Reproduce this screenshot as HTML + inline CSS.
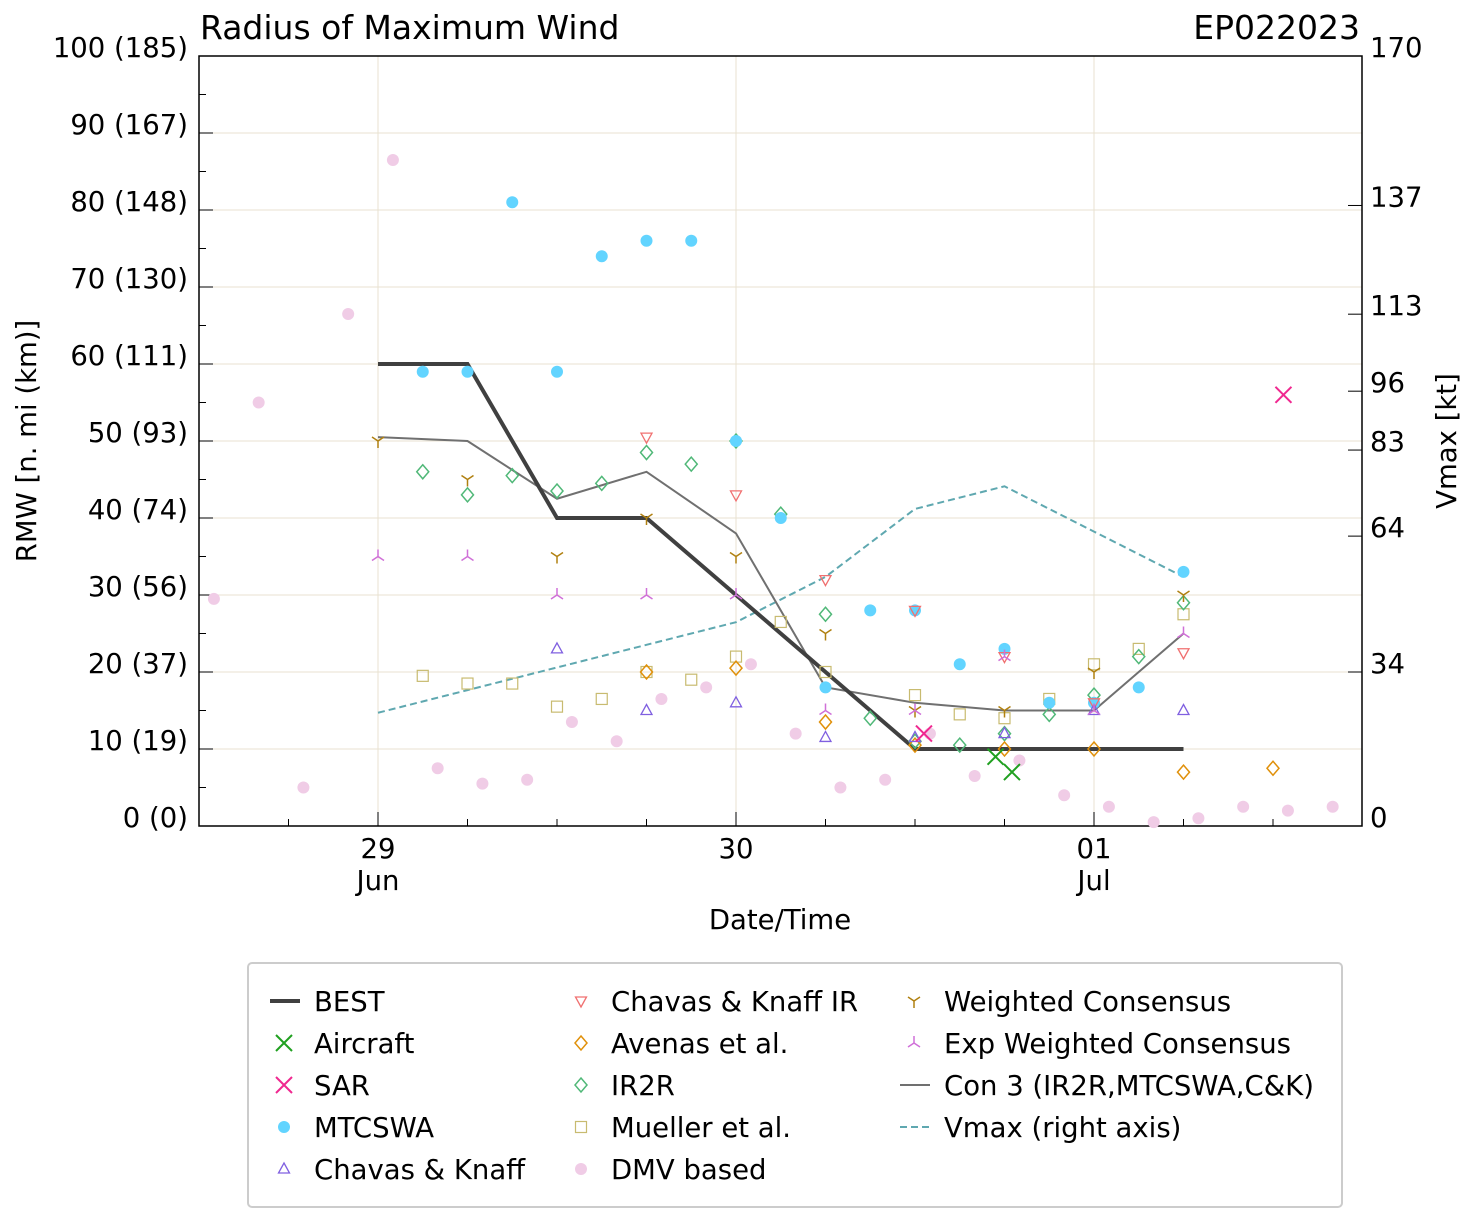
<!DOCTYPE html>
<html><head><meta charset="utf-8"><style>
body{margin:0;background:#fff;font-family:"DejaVu Sans","Liberation Sans",sans-serif;}
svg text{font-family:"DejaVu Sans","Liberation Sans",sans-serif;}
</style></head><body>
<svg id="chart" width="1477" height="1222" xmlns="http://www.w3.org/2000/svg"></svg>
<script>
// ---- data (hours from 29 Jun 00Z, RMW n mi) ----
const bestH=[0,6,12,18,24,30,36,42,48,54];
const bestV=[60,60,40,40,30,20,10,10,10,10];
const con3V=[50.5,50,42.5,46,38,18,16,15,15,25];
const vmaxV=[25,30,35,40,45,55,70,75,65,55];
const mtcH=[3,6,9,12,15,18,21,24,27,30,33,36,39,42,45,48,51,54];
const mtcV=[59,59,81,59,74,76,76,50,40,18,28,28,21,23,16,16,18,33];
const ir2rH=[3,6,9,12,15,18,21,24,27,30,33,36,39,42,45,48,51,54];
const ir2rV=[46,43,45.5,43.5,44.5,48.5,47,50,40.5,27.5,14,11,10.5,12,14.5,17,22,29];
const ckirH=[18,24,30,36,42,48,54];
const ckirV=[50.5,43,32,28,22,16,22.5];
const avH=[18,24,30,36,42,48,54,60];
const avV=[20,20.5,13.5,10.5,10,10,7,7.5];
const ckH=[12,18,24,30,36,42,48,54];
const ckV=[23,15,16,11.5,11.5,12,15,15];
const muH=[3,6,9,12,15,18,21,24,27,30,36,39,42,45,48,51,54];
const muV=[19.5,18.5,18.5,15.5,16.5,20,19,22,26.5,20,17,14.5,14,16.5,21,23,27.5];
const wcH=[0,6,12,18,24,30,36,42,48,54];
const wcV=[50,45,35,40,35,25,15,15,20,30];
const ewcV=[35,35,30,30,30,15,15,22,15,25];
const acH=[41.4,42.5];
const acV=[9,7];
const sarH=[36.6,60.7];
const sarV=[12,56];
const dmvH=[-11,-8,-5,-2,1,4,7,10,13,16,19,22,25,28,31,34,37,40,43,46,49,52,55,58,61,64];
const dmvV=[29.5,55,5,66.5,86.5,7.5,5.5,6,13.5,11,16.5,18,21,12,5,6,12,6.5,8.5,4,2.5,0.5,1,2.5,2,2.5];
const yTicks=["0 (0)","10 (19)","20 (37)","30 (56)","40 (74)","50 (93)","60 (111)","70 (130)","80 (148)","90 (167)","100 (185)"];
const rTicks=[0,34,64,83,96,113,137,170];

const L=199,R=1362,T=56,B=826;
const FS=27.5;
const xs=h=>378+h*(358/24);
const ys=v=>B-v*(B-T)/100;
const yr=v=>B-v*(B-T)/170;
const svg=document.getElementById('chart');
const NS='http://www.w3.org/2000/svg';
function mk(tag,at,parent){const e=document.createElementNS(NS,tag);for(const k in at)e.setAttribute(k,at[k]);(parent||svg).appendChild(e);return e;}
function txt(s,at,parent){const e=mk('text',at,parent);e.textContent=s;return e;}

// grid
const grid=mk('g',{});


for(let v=10;v<100;v+=10)mk('line',{x1:L,x2:R,y1:ys(v),y2:ys(v),stroke:'#e8e2d0','stroke-width':1},grid);
[0,24,48].forEach(h=>mk('line',{x1:xs(h),x2:xs(h),y1:T,y2:B,stroke:'#e8e2d0','stroke-width':1},grid));

// axes frame + ticks
mk('rect',{x:L,y:T,width:R-L,height:B-T,fill:'none',stroke:'#000','stroke-width':1.5});
for(let v=0;v<=100;v+=5){const big=v%10==0;mk('line',{x1:L,x2:L+(big?14:7),y1:ys(v),y2:ys(v),stroke:'#000'});}
yTicks.forEach((t,i)=>{const e=txt(t,{x:188,y:ys(i*10)+1,'font-size':FS,'text-anchor':'end'});
});
rTicks.forEach(v=>{mk('line',{x1:R-14,x2:R,y1:yr(v),y2:yr(v),stroke:'#000'});
const e=txt(String(v),{x:1370,y:yr(v)+1,'font-size':FS});
});
for(let h=-6;h<=60;h+=6){const big=h%24==0;mk('line',{x1:xs(h),x2:xs(h),y1:B,y2:B-(big?14:7),stroke:'#000'});}
[["29","Jun",0],["30","",24],["01","Jul",48]].forEach(d=>{
const a=txt(d[0],{x:xs(d[2]),y:858,'font-size':FS,'text-anchor':'middle'});
if(d[1]){const b=txt(d[1],{x:xs(d[2]),y:890,'font-size':FS,'text-anchor':'middle'});}});

let e;
e=txt('Radius of Maximum Wind',{x:200,y:39,'font-size':33});
e=txt('EP022023',{x:1360,y:39,'font-size':33,'text-anchor':'end'});
e=txt('Date/Time',{x:780,y:929,'font-size':FS,'text-anchor':'middle'});
e=txt('RMW [n. mi (km)]',{x:0,y:0,'font-size':FS,'text-anchor':'middle',transform:'translate(36,441) rotate(-90)'});
e=txt('Vmax [kt]',{x:0,y:0,'font-size':FS,'text-anchor':'middle',transform:'translate(1456,441) rotate(-90)'});

// markers
function marker(type,x,y,c,g){
 switch(type){
 case 'circle':mk('circle',{cx:x,cy:y,r:6,fill:c},g);break;
 case 'dmv':mk('circle',{cx:x,cy:y,r:6,fill:c},g);break;
 case 'x':mk('path',{d:`M${x-8} ${y-8}L${x+8} ${y+8}M${x-8} ${y+8}L${x+8} ${y-8}`,stroke:c,'stroke-width':2,fill:'none'},g);break;
 case 'tri':mk('path',{d:`M${x} ${y-6}L${x+5.5} ${y+4}L${x-5.5} ${y+4}Z`,stroke:c,'stroke-width':1.3,fill:'none'},g);break;
 case 'trid':mk('path',{d:`M${x} ${y+6}L${x+5.5} ${y-4}L${x-5.5} ${y-4}Z`,stroke:c,'stroke-width':1.3,fill:'none'},g);break;
 case 'diam':mk('path',{d:`M${x} ${y-7}L${x+6} ${y}L${x} ${y+7}L${x-6} ${y}Z`,stroke:c,'stroke-width':1.5,fill:'none'},g);break;
 case 'sq':mk('rect',{x:x-5.5,y:y-5.5,width:11,height:11,stroke:c,'stroke-width':1.2,fill:'none'},g);break;
 case 'y1':mk('path',{d:`M${x} ${y}L${x} ${y+7}M${x} ${y}L${x-6} ${y-4}M${x} ${y}L${x+6} ${y-4}`,stroke:c,'stroke-width':1.5,fill:'none'},g);break;
 case 'y2':mk('path',{d:`M${x} ${y}L${x} ${y-7}M${x} ${y}L${x-6} ${y+4}M${x} ${y}L${x+6} ${y+4}`,stroke:c,'stroke-width':1.5,fill:'none'},g);break;
 }
}
function scatter(name,H,V,type,c){const g=mk('g',{});
 H.forEach((h,i)=>marker(type,xs(h),ys(V[i]),c,g));}
function line(name,H,V,yf,at){const g=mk('path',Object.assign({d:H.map((h,i)=>(i?'L':'M')+xs(h)+' '+yf(V[i])).join(''),fill:'none'},at));
 }

scatter('dmv-series',dmvH,dmvV,'dmv','#f0cce6');
line('vmax-line',bestH,vmaxV,yr,{stroke:'#5fa8b0','stroke-width':2,'stroke-dasharray':'7,4'});
line('con3-line',bestH,con3V,ys,{stroke:'#707070','stroke-width':2});
line('best-line',bestH,bestV,ys,{stroke:'#404040','stroke-width':4});
scatter('mueller-series',muH,muV,'sq','#c8bb70');
scatter('ir2r-series',ir2rH,ir2rV,'diam','#50b878');
scatter('mtcswa-series',mtcH,mtcV,'circle','#62d4ff');
scatter('chavas-knaff-ir-series',ckirH,ckirV,'trid','#f07070');
scatter('avenas-series',avH,avV,'diam','#e0900a');
scatter('chavas-knaff-series',ckH,ckV,'tri','#8060e0');
scatter('weighted-consensus-series',wcH,wcV,'y1','#b08010');
scatter('exp-weighted-consensus-series',bestH,ewcV,'y2','#d070d8');
scatter('aircraft-series',acH,acV,'x','#20a020');
scatter('sar-series',sarH,sarV,'x','#f02890');

// legend
const lg=mk('g',{});
mk('rect',{x:248,y:963,width:1094,height:244,rx:4,fill:'#fff',stroke:'#ccc','stroke-width':2},lg);
const items=[
 ['BEST','best',270,1001],['Aircraft','x:#20a020',270,1043],['SAR','x:#f02890',270,1085],['MTCSWA','circle:#62d4ff',270,1127],['Chavas & Knaff','tri:#8060e0',270,1169],
 ['Chavas & Knaff IR','trid:#f07070',567,1001],['Avenas et al.','diam:#e0900a',567,1043],['IR2R','diam:#50b878',567,1085],['Mueller et al.','sq:#c8bb70',567,1127],['DMV based','dmv:#f0cce6',567,1169],
 ['Weighted Consensus','y1:#b08010',900,1001],['Exp Weighted Consensus','y2:#d070d8',900,1043],['Con 3 (IR2R,MTCSWA,C&K)','con',900,1085],['Vmax (right axis)','vmax',900,1127]];
items.forEach(it=>{const [label,st,x,y]=it;const g=mk('g',{},lg);
 
 
 if(st=='best')mk('line',{x1:x,x2:x+30,y1:y,y2:y,stroke:'#404040','stroke-width':4},g);
 else if(st=='con')mk('line',{x1:x,x2:x+30,y1:y,y2:y,stroke:'#707070','stroke-width':2},g);
 else if(st=='vmax')mk('line',{x1:x,x2:x+30,y1:y,y2:y,stroke:'#5fa8b0','stroke-width':2,'stroke-dasharray':'7,4'},g);
 else{const [t,c]=st.split(':');marker(t,x+14,y,c,g);}
 txt(label,{x:x+44,y:y+10,'font-size':FS},g);});
</script>
</body></html>
